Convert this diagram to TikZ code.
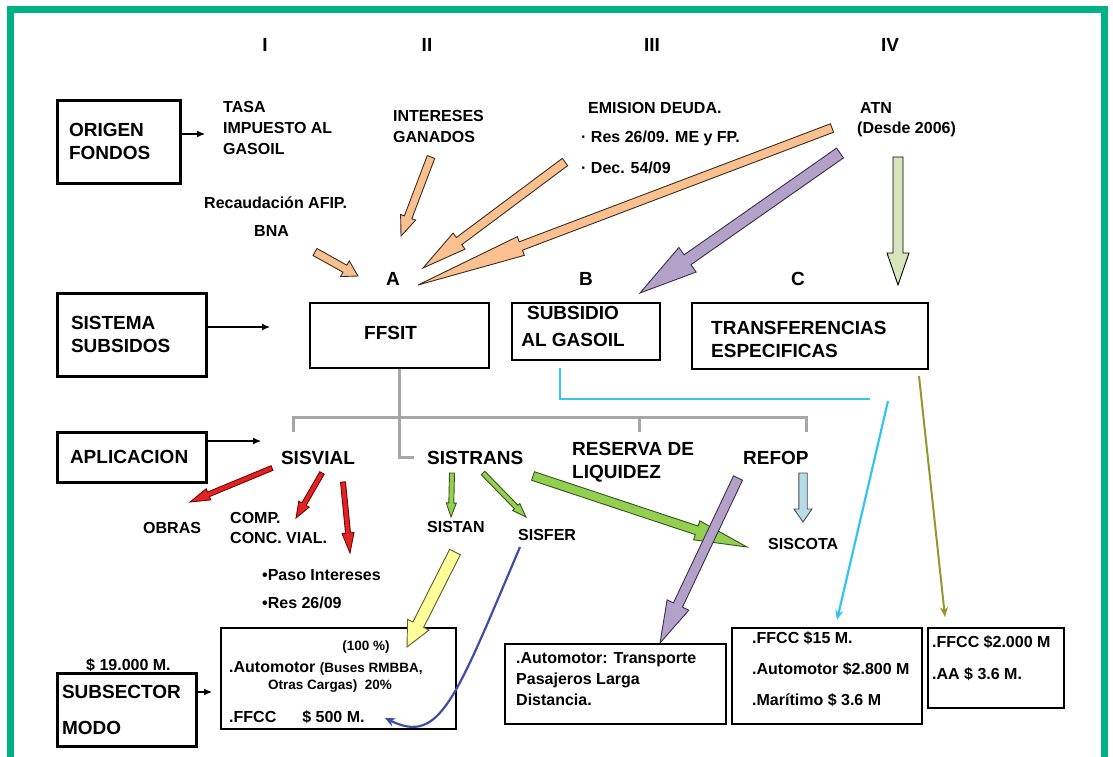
\documentclass[tikz,border=0pt]{standalone}
\usepackage{fontspec}
\setmainfont{Liberation Sans}
\usetikzlibrary{calc,arrows.meta}
\definecolor{framec}{RGB}{0,176,134}
\definecolor{peach}{RGB}{250,192,144}
\definecolor{peachd}{RGB}{60,45,30}
\definecolor{purp}{RGB}{179,162,199}
\definecolor{purpd}{RGB}{60,45,80}
\definecolor{lgreen}{RGB}{215,228,189}
\definecolor{redf}{RGB}{225,35,35}
\definecolor{redd}{RGB}{120,0,0}
\definecolor{grf}{RGB}{146,208,80}
\definecolor{grd}{RGB}{60,80,30}
\definecolor{refopf}{RGB}{183,222,232}
\definecolor{yelf}{RGB}{255,255,153}
\definecolor{yeld}{RGB}{90,90,50}
\definecolor{cyanc}{RGB}{51,196,240}
\definecolor{olivec}{RGB}{150,150,45}
\definecolor{bluec}{RGB}{60,78,170}
\definecolor{grayc}{RGB}{166,166,166}
\newcommand\blockarr[7]{%
  \coordinate (ba-base) at ($(#4)!#7!(#3)$);
  \filldraw[fill=#1, draw=#2, line width=0.9pt, line join=miter]
    ($(#3)!#5!90:(#4)$) -- ($(ba-base)!#5!-90:(#3)$) -- ($(ba-base)!#6!-90:(#3)$) -- (#4)
    -- ($(ba-base)!#6!90:(#3)$) -- ($(ba-base)!#5!90:(#3)$) -- ($(#3)!#5!-90:(#4)$) -- cycle;}
\begin{document}
\begin{tikzpicture}[x=1pt,y=-1pt,
  every node/.style={inner sep=0pt},
  num/.style={font=\bfseries\fontsize{19}{23}\selectfont},
  t16/.style={font=\bfseries\fontsize{16}{21}\selectfont, anchor=west, align=left},
  t19/.style={font=\bfseries\fontsize{19}{23}\selectfont, anchor=west, align=left},
  t13/.style={font=\bfseries\fontsize{13.5}{16}\selectfont, anchor=west, align=left},
  thickbox/.style={draw, line width=3pt, font=\bfseries\fontsize{19}{23.5}\selectfont, align=left},
  thinbox/.style={draw, line width=1.3pt},
  smallarr/.style={draw, line width=1.2pt, -{Latex[length=8pt,width=7pt]}},
  grayl/.style={draw=grayc, line width=3pt},
  thinarr/.style={line width=2.2pt, -{Stealth[length=10pt,width=8pt]}}
]
\useasboundingbox (0,0) rectangle (1113,756);
\clip (0,0) rectangle (1113,756);
\fill[white] (0,0) rectangle (1113,756);
\draw[framec, line width=7pt] (10.5,770) -- (10.5,9.5) -- (1104,9.5) -- (1104,770);

% roman numerals
\node[num] (r1) at (265,45) {I};
\node[num] (r2) at (427,45) {II};
\node[num] (r3) at (652,45) {III};
\node[num] (r4) at (890,45) {IV};

% left boxes
\node[thickbox, minimum width=123pt, minimum height=83pt, inner xsep=12pt, text width=99pt] (origen) at (118.5,141.5) {ORIGEN\\FONDOS};
\node[thickbox, minimum width=149pt, minimum height=83pt, inner xsep=14pt, text width=121pt] (sistema) at (131.5,334.5) {SISTEMA\\SUBSIDOS};
\node[thickbox, minimum width=149pt, minimum height=50pt, inner xsep=13pt, text width=123pt] (aplic) at (131.5,457) {APLICACION};
\node[thickbox, minimum width=139pt, minimum height=73pt, inner xsep=5pt, text width=129pt, font=\bfseries\fontsize{19}{36}\selectfont] (subsector) at (126.5,709.5) {SUBSECTOR\\MODO};
\node[t16] (monto) at (86,665) {\$ 19.000 M.};

\coordinate (origenT) at (205,134);
\coordinate (sistemaT) at (270,327);
\coordinate (aplicT) at (261,441);
\coordinate (subsT) at (212,692);
\draw[smallarr] (origen.east |- origenT) -- (origenT);
\draw[smallarr] (sistema.east |- sistemaT) -- (sistemaT);
\draw[smallarr] (aplic.east |- aplicT) -- (aplicT);
\draw[smallarr] (subsector.east |- subsT) -- (subsT);

% sources
\node[t16] (tasa) at (223,128) {TASA\\IMPUESTO AL\\GASOIL};
\node[t16] (interes) at (393,126.5) {INTERESES\\GANADOS};
\node[t16] (emision) at (588,108) {EMISION DEUDA.};
\node[t16] (res) at (581,138) {· Res 26/09. ME y FP.};
\node[t16] (dec) at (581,168) {· Dec. 54/09};
\node[t16] (atn) at (860,108) {ATN};
\node[t16] (desde) at (857,129) {(Desde 2006)};
\node[t16] (recaud) at (204,203) {Recaudación AFIP.};
\node[t16] (bna) at (254,231) {BNA};
\node[num] (A) at (393,279) {A};
\node[num] (B) at (586,279) {B};
\node[num] (C) at (798,279) {C};

% middle boxes
\node[thinbox, minimum width=179pt, minimum height=65pt] (ffsitbox) at (399.5,335.5) {};
\node[t19] (ffsit) at (364,333) {FFSIT};
\node[thinbox, minimum width=148pt, minimum height=57pt] (subsidiobox) at (586,331.5) {};
\node[font=\bfseries\fontsize{19}{27}\selectfont, align=center] (subsidio) at (573,326.5) {SUBSIDIO\\AL GASOIL};
\node[thinbox, minimum width=236pt, minimum height=66pt] (transfbox) at (810,336) {};
\node[t19] (transf) at (711,339.5) {TRANSFERENCIAS\\ESPECIFICAS};

% peach arrows
\coordinate (pa1s) at (315,252); \coordinate (pa1e) at (358,276);
\coordinate (pa2s) at (431,157); \coordinate (pa2e) at (401,236);
\coordinate (pa3s) at (565,162); \coordinate (pa3e) at (423,268);
\coordinate (pa4s) at (832,128); \coordinate (pa4e) at (418,285);
\blockarr{peach}{peachd}{pa1s}{pa1e}{4pt}{9pt}{15pt}
\blockarr{peach}{peachd}{pa2s}{pa2e}{4pt}{8pt}{20pt}
\blockarr{peach}{peachd}{pa3s}{pa3e}{4.5pt}{10pt}{45pt}
\blockarr{peach}{peachd}{pa4s}{pa4e}{4.5pt}{10pt}{110pt}
\coordinate (pu1s) at (840,153); \coordinate (pu1e) at (640,293);
\blockarr{purp}{purpd}{pu1s}{pu1e}{6pt}{15pt}{58pt}
\coordinate (lg1s) at (898,157); \coordinate (lg1e) at (898,285);
\blockarr{lgreen}{black}{lg1s}{lg1e}{5pt}{11pt}{32pt}

% gray tree
\coordinate (trunkend) at (414,457);
\coordinate (barL) at (293,432);
\coordinate (barM) at (639,432);
\coordinate (barR) at (806,432);
\draw[grayl] (ffsitbox.south) |- (trunkend);
\draw[grayl] (barL) -- ++(0,-15) -| (barR);
\draw[grayl] (barM) -- ++(0,-15);

% cyan and olive
\coordinate (cy0) at (560,368);
\coordinate (cy1) at (870,399);
\coordinate (cy2) at (888,401);
\coordinate (cy3) at (837,620);
\draw[cyanc, line width=2.2pt] (cy0) |- (cy1);
\draw[cyanc, thinarr] (cy2) -- (cy3);
\coordinate (ol0) at (919,376);
\coordinate (ol1) at (945,617);
\draw[olivec, line width=2pt, -{Stealth[length=10pt,width=8pt]}] (ol0) -- (ol1);

% application labels
\node[num] (sisvial) at (318,458) {SISVIAL};
\node[t19] (sistrans) at (427,458) {SISTRANS};
\node[t19] (reserva) at (572,462) {RESERVA DE\\LIQUIDEZ};
\node[t19] (refop) at (743,458) {REFOP};

\node[t16] (obras) at (143,528) {OBRAS};
\node[t16, font=\bfseries\fontsize{16}{20}\selectfont] (comp) at (230,528) {COMP.\\CONC. VIAL.};
\node[t16] (paso) at (262,575) {•Paso Intereses};
\node[t16] (res2) at (262,603) {•Res 26/09};
\node[t16] (sistan) at (427,527) {SISTAN};
\node[t16] (sisfer) at (518,535) {SISFER};
\node[t16] (siscota) at (768,544) {SISCOTA};

% red arrows
\coordinate (rd1s) at (272,468); \coordinate (rd1e) at (190,502);
\coordinate (rd2s) at (322,473); \coordinate (rd2e) at (296,518);
\coordinate (rd3s) at (343,482); \coordinate (rd3e) at (350,553);
\blockarr{redf}{redd}{rd1s}{rd1e}{2.5pt}{6pt}{20pt}
\blockarr{redf}{redd}{rd2s}{rd2e}{2.5pt}{6pt}{16pt}
\blockarr{redf}{redd}{rd3s}{rd3e}{2.5pt}{6pt}{20pt}

% green arrows
\coordinate (gr1s) at (452,473); \coordinate (gr1e) at (451,517);
\coordinate (gr2s) at (483,473); \coordinate (gr2e) at (526,517);
\coordinate (gr3s) at (533,476); \coordinate (gr3e) at (747,547);
\blockarr{grf}{grd}{gr1s}{gr1e}{2.5pt}{5pt}{14pt}
\blockarr{grf}{grd}{gr2s}{gr2e}{2.5pt}{5pt}{14pt}
\blockarr{grf}{grd}{gr3s}{gr3e}{4.5pt}{10pt}{53pt}

% refop, purple 2
\coordinate (rfs) at (803,473); \coordinate (rfe) at (803,522);
\blockarr{refopf}{black!70}{rfs}{rfe}{4.2pt}{9pt}{13pt}
\coordinate (pu2s) at (738,478); \coordinate (pu2e) at (660,643);
\blockarr{purp}{purpd}{pu2s}{pu2e}{5pt}{12pt}{42pt}

% bottom boxes
\node[thinbox, minimum width=235pt, minimum height=101pt] (box1) at (338.5,678.5) {};
\node[t13, anchor=center] (pct) at (366,647) {(100 \%)};
\node[t16] (auto1) at (229,668) {.Automotor {\fontsize{13.5}{16}\selectfont (Buses RMBBA,}};
\node[t13] (otras) at (268,686) {Otras Cargas)\ \ 20\%};
\node[t16] (ffcc1) at (229,717) {.FFCC\hspace{26pt}\$ 500 M.};

\node[thinbox, minimum width=221pt, minimum height=80pt] (box2) at (615.5,684) {};
\node[t16] (auto2) at (516,679) {.Automotor: Transporte\\Pasajeros Larga\\Distancia.};

\node[thinbox, minimum width=190pt, minimum height=96pt] (box3) at (827,676) {};
\node[t16, font=\bfseries\fontsize{16}{31}\selectfont] (box3txt) at (752,669) {.FFCC \$15 M.\\.Automotor \$2.800 M\\.Marítimo \$ 3.6 M};

\node[thinbox, minimum width=136pt, minimum height=80pt] (box4) at (996,668) {};
\node[t16, font=\bfseries\fontsize{16}{32}\selectfont] (box4txt) at (932,658) {.FFCC \$2.000 M\\.AA \$ 3.6 M.};

\coordinate (yls) at (455,552); \coordinate (yle) at (407,647);
\blockarr{yelf}{yeld}{yls}{yle}{6pt}{12pt}{25pt}

% blue curve
\coordinate (blues) at (520,547);
\coordinate (bluee) at (385,718);
\draw[bluec, line width=2.2pt, -{Stealth[length=10pt,width=9pt]}] (blues) .. controls (455,700) and (440,745) .. (bluee);
\end{tikzpicture}
\end{document}
